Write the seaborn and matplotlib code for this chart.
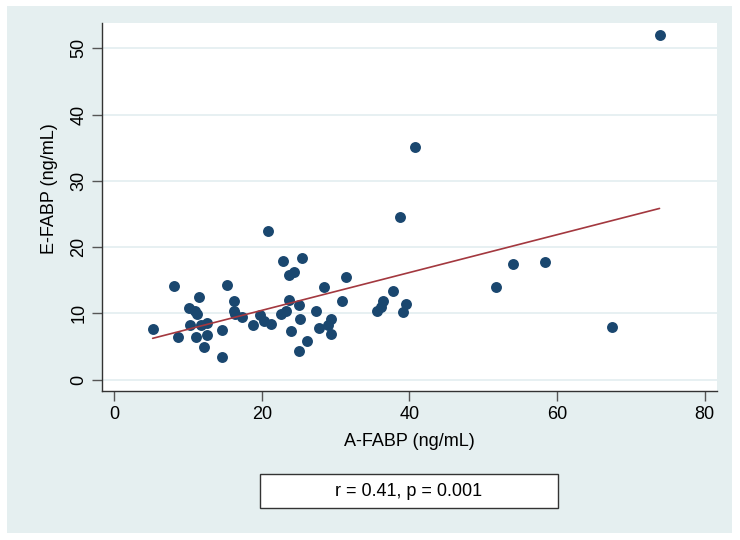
import pandas as pd
import matplotlib.pyplot as plt
import matplotlib.patches as mpatches
import seaborn as sns

# A-FABP vs E-FABP values
a_fabp = [5.2, 8.1, 8.7, 10.1, 10.2, 11.0, 11.2, 11.5, 11.1, 12.2, 11.8, 12.5, 12.6,
          14.6, 14.6, 15.3, 16.2, 16.2, 16.3, 17.3, 18.8, 19.8, 20.3, 20.8, 21.3,
          22.6, 22.8, 23.3, 23.7, 24.3, 23.7, 23.9, 25.1, 25.2, 25.1, 25.5, 26.1,
          27.3, 28.4, 27.8, 28.9, 29.4, 29.4, 30.8, 31.4,
          40.8, 38.7, 37.8, 36.4, 36.1, 35.6, 39.5, 39.1,
          51.8, 54.0, 58.4, 67.5, 73.9]
e_fabp = [7.6, 14.1, 6.4, 10.8, 8.3, 10.3, 9.9, 12.5, 6.5, 5.0, 8.2, 8.5, 6.7,
          7.5, 3.5, 14.3, 11.9, 10.3, 9.9, 9.4, 8.3, 9.8, 8.9, 22.4, 8.4,
          9.9, 17.9, 10.4, 15.8, 16.2, 12.0, 7.3, 11.2, 9.2, 4.4, 18.4, 5.9,
          10.3, 14.0, 7.8, 8.3, 9.2, 6.9, 11.9, 15.5,
          35.1, 24.6, 13.4, 11.9, 10.9, 10.3, 11.4, 10.2,
          14.0, 17.5, 17.8, 7.9, 52.0]
stats_text = "r = 0.41, p = 0.001"

df = pd.DataFrame({"A-FABP": a_fabp, "E-FABP": e_fabp})

sns.set_style("white")
plt.rcParams["font.family"] = ["Liberation Sans", "DejaVu Sans"]
plt.rcParams["text.color"] = "black"
plt.rcParams["xtick.color"] = "#555555"
plt.rcParams["ytick.color"] = "#555555"
plt.rcParams["xtick.labelcolor"] = "black"
plt.rcParams["ytick.labelcolor"] = "black"

bg = "#E5EFF0"
fig = plt.figure(figsize=(7.4, 5.4), dpi=100)
fig.patch.set_facecolor("white")
fig.patches.append(mpatches.Rectangle((0.0095, 0.013), 0.98, 0.976, transform=fig.transFigure,
                                      facecolor=bg, edgecolor="none", zorder=-5))

ax = fig.add_axes([0.1385, 0.276, 0.8305, 0.681])
ax.set_facecolor("white")
ax.set_axisbelow(True)
ax.yaxis.grid(True, color="#E3EEF0", linewidth=1.2)

sns.regplot(data=df, x="A-FABP", y="E-FABP", ax=ax, ci=None,
            scatter_kws=dict(s=62, color="#1a476f", alpha=1, linewidths=0),
            line_kws=dict(color="#a3383f", linewidth=1.2))

ax.set_xlim(-1.6, 81.7)
ax.set_ylim(-1.7, 53.8)
ax.set_xticks([0, 20, 40, 60, 80])
ax.set_yticks([0, 10, 20, 30, 40, 50])
for s in ["top", "right"]:
    ax.spines[s].set_visible(False)
for s in ["left", "bottom"]:
    ax.spines[s].set_color("#333333")
    ax.spines[s].set_linewidth(1.0)
ax.tick_params(axis="both", direction="out", length=7, width=1,
               labelsize=13, pad=4, left=True, bottom=True)
plt.setp(ax.get_yticklabels(), rotation=90, va="center")

ax.set_xlabel("")
ax.set_ylabel("")
fig.text(409 / 740, 1 - 442 / 540, "A-FABP (ng/mL)", ha="center", va="center", fontsize=13)
fig.text(50 / 740, 1 - 189 / 540, "E-FABP (ng/mL)", ha="center", va="center",
         rotation=90, fontsize=13)

fig.patches.append(mpatches.Rectangle((260 / 740, 1 - 508 / 540), 298 / 740, 34 / 540,
                                      transform=fig.transFigure, facecolor="white",
                                      edgecolor="#333333", linewidth=1.0, zorder=1))
fig.text(409 / 740, 1 - 491 / 540, stats_text, ha="center", va="center", fontsize=13)

fig.savefig("out.png", dpi=100, facecolor="white")
